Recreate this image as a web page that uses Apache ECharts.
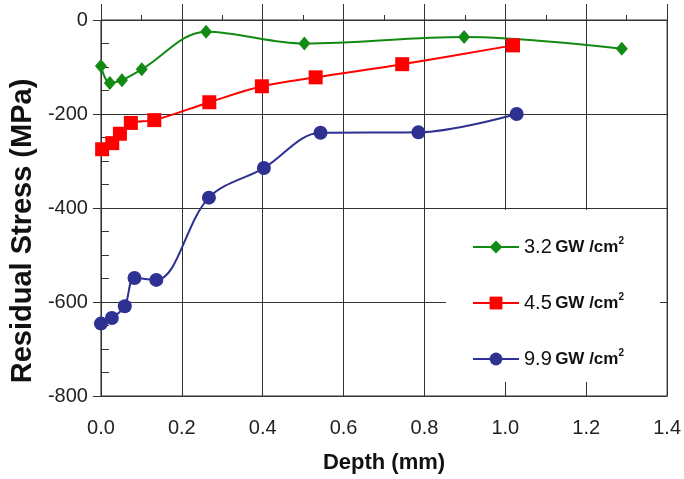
<!DOCTYPE html>
<html>
<head>
<meta charset="utf-8">
<script src="https://cdn.jsdelivr.net/npm/echarts@6/dist/echarts.min.js"></script>
<style>
html,body{margin:0;padding:0;background:#fff;}
#chart{width:684px;height:479px;}
</style>
</head>
<body>
<div id="chart"></div>
<script>
// ---- data ----
const seriesNames = ['3.2 GW /cm²', '4.5 GW /cm²', '9.9 GW /cm²'];
const depth32  = [0.000, 0.022, 0.052, 0.101, 0.260, 0.503, 0.898, 1.288];
const stress32 = [-98, -134, -128, -105, -25, -50, -36, -61];
const depth45  = [0.003, 0.028, 0.047, 0.074, 0.132, 0.268, 0.398, 0.531, 0.745, 1.019];
const stress45 = [-275, -262, -242, -219, -213, -175, -141, -122, -94, -54];
const depth99  = [0.000, 0.027, 0.059, 0.083, 0.137, 0.267, 0.403, 0.543, 0.785, 1.028];
const stress99 = [-646, -634, -609, -549, -553, -378, -315, -240, -239, -200];
const xTicks = { min: 0, max: 1.4, interval: 0.2 };
const yTicks = { min: -800, max: 0, interval: 200 };
const xName = 'Depth (mm)';
const yName = 'Residual Stress (MPa)';

const pairs = (xs, ys) => xs.map((x, i) => [x, ys[i]]);
const FONT = '"Liberation Sans", Arial, sans-serif';
const AX = '#333';

const chart = echarts.init(document.getElementById('chart'), null, { renderer: 'canvas' });
chart.setOption({
  backgroundColor: '#fff',
  animation: false,
  grid: { left: 98, right: 16, top: 20, bottom: 80, show: true, borderColor: AX, borderWidth: 1 },
  xAxis: [
    {
      type: 'value', min: xTicks.min, max: xTicks.max, interval: xTicks.interval,
      name: xName, nameLocation: 'middle', nameGap: 56,
      nameTextStyle: { fontFamily: FONT, fontWeight: 'bold', fontSize: 22, color: '#111' },
      axisLine: { show: true, lineStyle: { color: AX, width: 1 } },
      axisTick: { show: true, inside: false, length: 6, lineStyle: { color: AX } },
      axisLabel: { fontFamily: FONT, fontSize: 20, color: '#222', margin: 22,
                   formatter: v => v.toFixed(1) },
      splitLine: { show: true, lineStyle: { color: AX, width: 1 } }
    },
    {
      type: 'value', min: xTicks.min, max: xTicks.max, interval: xTicks.interval, position: 'bottom',
      axisLine: { show: false },
      axisTick: { show: true, inside: true, length: 16, lineStyle: { color: AX } },
      minorTick: { show: true, splitNumber: 2, length: 5, lineStyle: { color: AX } },
      axisLabel: { show: false }, splitLine: { show: false }
    }
  ],
  yAxis: [
    {
      type: 'value', min: yTicks.min, max: yTicks.max, interval: yTicks.interval,
      name: yName, nameLocation: 'middle', nameGap: 57,
      nameTextStyle: { fontFamily: FONT, fontWeight: 'bold', fontSize: 29, color: '#111',
                       padding: [0, 46, 0, 0] },
      axisLine: { show: true, lineStyle: { color: AX, width: 1 } },
      axisTick: { show: true, inside: false, length: 8, lineStyle: { color: AX } },
      axisLabel: { fontFamily: FONT, fontSize: 20, color: '#222', margin: 13 },
      splitLine: { show: true, lineStyle: { color: AX, width: 1 } }
    },
    {
      type: 'value', min: yTicks.min, max: yTicks.max, interval: yTicks.interval, position: 'left',
      axisLine: { show: false },
      axisTick: { show: false, inside: true },
      minorTick: { show: true, splitNumber: 4, length: 8, lineStyle: { color: AX } },
      axisLabel: { show: false }, splitLine: { show: false }
    },
    {
      type: 'value', min: yTicks.min, max: yTicks.max, interval: yTicks.interval, position: 'right',
      axisLine: { show: true, lineStyle: { color: AX } },
      axisTick: { show: true, inside: true, length: 13, lineStyle: { color: AX } },
      axisLabel: { show: false }, splitLine: { show: false }
    }
  ],
  legend: {
    orient: 'vertical', left: 446, top: 210,
    padding: [26, 36, 13, 26],
    backgroundColor: '#fff',
    itemWidth: 46, itemHeight: 16, itemGap: 35,
    data: seriesNames,
    formatter: name => {
      const parts = name.split(' ');
      return '{a|' + parts[0] + '} {b|GW /cm}{c|2}';
    },
    textStyle: {
      rich: {
        a: { fontFamily: FONT, fontSize: 20, color: '#111', lineHeight: 22 },
        b: { fontFamily: FONT, fontSize: 17, fontWeight: 'bold', color: '#111', lineHeight: 22 },
        c: { fontFamily: FONT, fontSize: 10, fontWeight: 'bold', color: '#111', lineHeight: 22, verticalAlign: 'top', padding: [0, 0, 8, 0] }
      }
    }
  },
  series: [
    {
      name: seriesNames[0], type: 'line', smooth: 0.35,
      data: pairs(depth32, stress32),
      symbol: 'diamond', symbolSize: [12, 14],
      itemStyle: { color: '#138a13' }, lineStyle: { color: '#138a13', width: 2 }
    },
    {
      name: seriesNames[1], type: 'line', smooth: 0.35,
      data: pairs(depth45, stress45),
      symbol: 'rect', symbolSize: 14,
      itemStyle: { color: '#ff0000' }, lineStyle: { color: '#ff0000', width: 2 }
    },
    {
      name: seriesNames[2], type: 'line', smooth: 0.35,
      data: pairs(depth99, stress99),
      symbol: 'circle', symbolSize: 14,
      itemStyle: { color: '#2e3192' }, lineStyle: { color: '#2e3192', width: 2 }
    }
  ]
});
</script>
</body>
</html>
